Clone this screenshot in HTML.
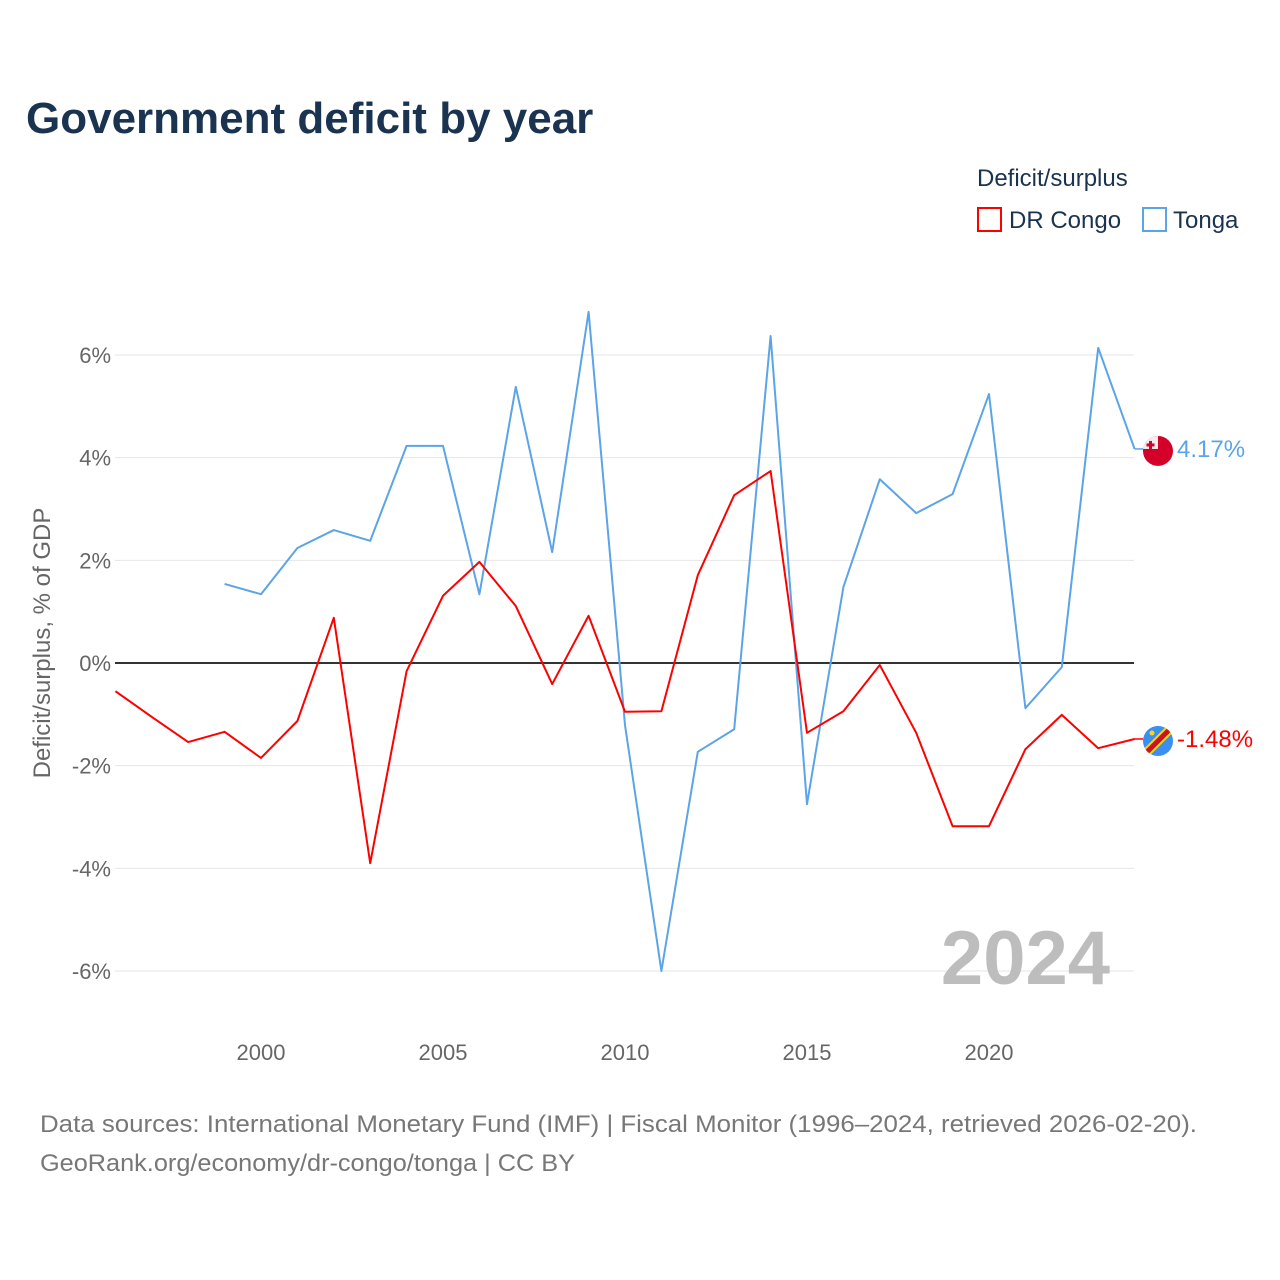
<!DOCTYPE html>
<html><head><meta charset="utf-8"><style>
body{margin:0;background:#fff;}
svg{display:block;font-family:"Liberation Sans",sans-serif;}
</style></head><body>
<svg id="chart" width="1280" height="1280" viewBox="0 0 1280 1280">
<text x="26" y="133" font-size="44" font-weight="bold" fill="#1a3350">Government deficit by year</text>
<text x="977" y="186" font-size="24" fill="#1a3350">Deficit/surplus</text>
<g><rect x="978" y="208" width="23" height="23" fill="none" stroke="#ff0000" stroke-width="2"/><text x="1009" y="228" font-size="24" fill="#1a3350">DR Congo</text></g>
<g><rect x="1143" y="208" width="23" height="23" fill="none" stroke="#5ba4e8" stroke-width="2"/><text x="1173" y="228" font-size="24" fill="#1a3350">Tonga</text></g>
<g id="grid"></g><g id="series"></g>
<text x="1110" y="984" font-size="76" font-weight="bold" fill="#bdbdbd" text-anchor="end">2024</text>
<text transform="translate(50,643) rotate(-90)" font-size="24" fill="#666" text-anchor="middle">Deficit/surplus, % of GDP</text>
<text x="40" y="1132" font-size="24" fill="#777" textLength="1157" lengthAdjust="spacingAndGlyphs">Data sources: International Monetary Fund (IMF) | Fiscal Monitor (1996–2024, retrieved 2026-02-20).</text>
<text x="40" y="1171" font-size="24" fill="#777" textLength="535" lengthAdjust="spacingAndGlyphs">GeoRank.org/economy/dr-congo/tonga | CC BY</text>
</svg>
<script>
const congoYears=[1996,1997,1998,1999,2000,2001,2002,2003,2004,2005,2006,2007,2008,2009,2010,2011,2012,2013,2014,2015,2016,2017,2018,2019,2020,2021,2022,2023,2024];
const congoValues=[-0.55,-1.05,-1.54,-1.34,-1.85,-1.13,0.88,-3.9,-0.16,1.31,1.97,1.11,-0.41,0.92,-0.95,-0.94,1.71,3.27,3.74,-1.36,-0.94,-0.04,-1.36,-3.18,-3.18,-1.68,-1.01,-1.66,-1.48];
const tongaYears=[1999,2000,2001,2002,2003,2004,2005,2006,2007,2008,2009,2010,2011,2012,2013,2014,2015,2016,2017,2018,2019,2020,2021,2022,2023,2024];
const tongaValues=[1.54,1.34,2.24,2.59,2.38,4.23,4.23,1.34,5.38,2.16,6.84,-1.21,-6.0,-1.73,-1.29,6.37,-2.75,1.48,3.58,2.92,3.29,5.24,-0.88,-0.08,6.14,4.17];
const yTicks=[-6,-4,-2,0,2,4,6];
const yTickLabels=["-6%","-4%","-2%","0%","2%","4%","6%"];
const xTicks=[2000,2005,2010,2015,2020];
const NS="http://www.w3.org/2000/svg";
function xs(y){return 261+(y-2000)*36.4;}
function ys(v){return 663-v*51.33;}
function mk(tag,attrs,parent){const e=document.createElementNS(NS,tag);for(const k in attrs)e.setAttribute(k,attrs[k]);parent.appendChild(e);return e;}
const grid=document.getElementById('grid'),ser=document.getElementById('series');
yTicks.forEach((t,i)=>{
 const l=mk('line',{x1:115,x2:1134,y1:ys(t),y2:ys(t),stroke:t===0?'#333':'#e6e6e6','stroke-width':t===0?2:1},grid);
 
 
 const tx=mk('text',{x:111,y:ys(t)+8,'font-size':22,fill:'#666','text-anchor':'end'},grid);
 tx.textContent=yTickLabels[i];
 
 
});
xTicks.forEach(t=>{
 const tx=mk('text',{x:xs(t),y:1060,'font-size':22,fill:'#666','text-anchor':'middle'},grid);
 tx.textContent=t;
 
 
});
function line(years,vals,color,name){
 const p=mk('polyline',{points:years.map((y,i)=>xs(y)+','+ys(vals[i])).join(' '),fill:'none',stroke:color,'stroke-width':2,'stroke-linejoin':'round'},ser);
 
 
}
line(tongaYears,tongaValues,'#5ba4e8','tonga-line');
line(congoYears,congoValues,'#ff0000','dr-congo-line');
const tv=tongaValues[tongaValues.length-1], cv=congoValues[congoValues.length-1];
const tl=mk('line',{x1:xs(2024),x2:1143,y1:ys(tv),y2:ys(tv),stroke:'#5ba4e8','stroke-width':1.5},ser);


const cl=mk('line',{x1:xs(2024),x2:1143,y1:ys(cv),y2:ys(cv),stroke:'#ff0000','stroke-width':1.5},ser);


const fT=mk('g',{},ser);


const ty=ys(tv)+2;
mk('defs',{},fT).innerHTML='<clipPath id="cT"><circle cx="1158" cy="'+ty+'" r="15"/></clipPath><clipPath id="cC"><circle cx="1158" cy="'+(ys(cv)+2)+'" r="15"/></clipPath>';
const gT=mk('g',{'clip-path':'url(#cT)'},fT);
mk('rect',{x:1143,y:ty-15,width:30,height:30,fill:'#d4002a'},gT);
mk('rect',{x:1143,y:ty-15,width:15,height:13,fill:'#eee'},gT);
mk('rect',{x:1149,y:ty-10,width:3,height:8,fill:'#d4002a'},gT);
mk('rect',{x:1146.5,y:ty-7.5,width:8,height:3,fill:'#d4002a'},gT);
const fC=mk('g',{},ser);


const cy=ys(cv)+2;
const gC=mk('g',{'clip-path':'url(#cC)'},fC);
mk('rect',{x:1143,y:cy-15,width:30,height:30,fill:'#3a8ff0'},gC);
mk('line',{x1:1140,y1:cy+18,x2:1176,y2:cy-18,stroke:'#f7d618','stroke-width':9},gC);
mk('line',{x1:1140,y1:cy+18,x2:1176,y2:cy-18,stroke:'#ce1021','stroke-width':5},gC);
mk('circle',{cx:1152,cy:cy-8,r:2.5,fill:'#f7d618'},gC);
const tt=mk('text',{x:1177,y:ys(tv)+8,'font-size':24,fill:'#5ba4e8'},ser);
tt.textContent=tv.toFixed(2)+'%';


const ct=mk('text',{x:1177,y:ys(cv)+8,'font-size':24,fill:'#ff0000'},ser);
ct.textContent=cv.toFixed(2)+'%';


</script>
</body></html>
